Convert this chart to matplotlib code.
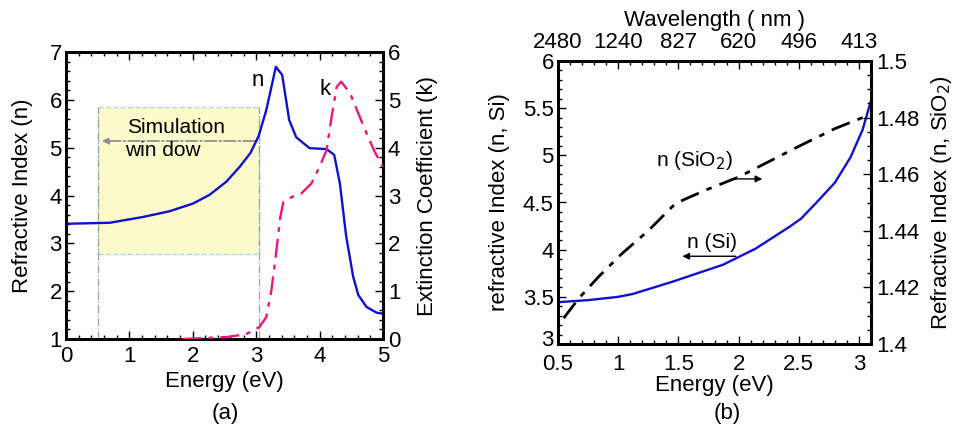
import matplotlib
matplotlib.use("Agg")
import matplotlib.pyplot as plt
from matplotlib.ticker import MultipleLocator
from matplotlib.patches import Rectangle
from matplotlib.transforms import ScaledTranslation

plt.rcParams['font.family'] = ['Liberation Sans', 'DejaVu Sans']

# ---- panel (a) data ----
energy_n = [0.05, 0.69, 1.21, 1.63, 2.0, 2.26, 2.53, 2.74, 2.91, 3.04, 3.16, 3.31, 3.41,
            3.52, 3.63, 3.84, 4.11, 4.23, 4.32, 4.42, 4.53, 4.61, 4.74, 4.90, 5.0]
n_si = [3.41, 3.43, 3.55, 3.67, 3.83, 4.01, 4.29, 4.60, 4.89, 5.25, 5.79, 6.69, 6.52,
        5.58, 5.22, 4.99, 4.97, 4.85, 4.25, 3.14, 2.30, 1.92, 1.67, 1.55, 1.53]
energy_k = [1.84, 2.53, 2.84, 3.05, 3.16, 3.24, 3.32, 3.38, 3.43, 3.58, 3.71, 3.87, 4.00,
            4.11, 4.19, 4.27, 4.34, 4.48, 4.61, 4.74, 4.87, 5.0]
k_si = [0.0, 0.04, 0.10, 0.25, 0.46, 1.02, 1.86, 2.55, 2.87, 2.98, 3.04, 3.25, 3.60,
        3.95, 4.65, 5.27, 5.38, 5.14, 4.72, 4.30, 3.91, 3.60]
window_e = [0.5, 3.04]
window_n = [2.78, 5.84]

# ---- panel (b) data ----
energy_b_si = [0.52, 0.75, 1.0, 1.12, 1.45, 1.87, 2.14, 2.42, 2.52, 2.64, 2.8, 2.93, 3.03, 3.1]
n_b_si = [3.445, 3.465, 3.50, 3.53, 3.66, 3.84, 4.01, 4.24, 4.33, 4.49, 4.71, 4.98, 5.27, 5.58]
energy_b_ox = [0.547, 0.672, 0.838, 1.033, 1.254, 1.477, 1.727, 2.0, 2.3, 2.517, 2.8, 3.1]
n_b_ox = [1.4091, 1.4161, 1.4238, 1.432, 1.4402, 1.4497, 1.4544, 1.4590, 1.4655, 1.4702,
          1.4761, 1.4812]
wl_ticks_e = [0.5, 1.0, 1.5, 2.0, 2.5, 3.0]
wl_labels = ['2480', '1240', '827', '620', '496', '413']

FS = 16
fig = plt.figure(figsize=(9.58, 4.4), dpi=100)


def style(ax, top=True, right=True, xpad=5):
    ax.tick_params(which='both', direction='in', top=top, right=right, labelsize=FS,
                   width=1.0, pad=3)
    ax.tick_params(which='major', length=6)
    ax.tick_params(which='minor', length=3)
    ax.tick_params(axis='x', which='both', pad=xpad)
    for s in ax.spines.values():
        s.set_linewidth(2)


# ---------------- panel (a) ----------------
ax1 = fig.add_axes([66/958, 1-339/440, (383-66)/958, (339-52)/440])
ax1.set_xlim(0, 5)
ax1.set_ylim(1, 7)
ax1.add_patch(Rectangle((window_e[0], window_n[0]), window_e[1]-window_e[0],
                        window_n[1]-window_n[0], facecolor='#fbfac8', edgecolor='#a8d8e8',
                        linestyle='--', linewidth=1, zorder=1))
for xe in window_e:
    ax1.plot([xe, xe], [1, window_n[1]], color='#a0a0a0', linestyle='-.', linewidth=0.9, zorder=1.5)
ax1.annotate('', xy=(window_e[0] + 0.02, 5.14), xytext=(window_e[1] - 0.02, 5.14),
             arrowprops=dict(arrowstyle='-|>', color='#909090', linestyle='-.', lw=1.3,
                             mutation_scale=10))
ax1.text(1.74, 5.42, 'Simulation', fontsize=15, ha='center', va='center')
ax1.text(1.53, 4.95, 'win dow', fontsize=15, ha='center', va='center')
ax1.plot(energy_n, n_si, color='#1010d0', linewidth=1.7, zorder=3)
ax1.text(3.03, 6.4, 'n', fontsize=16, ha='center', va='center')
ax1.text(4.08, 6.21, 'k', fontsize=16, ha='center', va='center')
ax1.xaxis.set_major_locator(MultipleLocator(1))
ax1.xaxis.set_minor_locator(MultipleLocator(0.2))
ax1.yaxis.set_major_locator(MultipleLocator(1))
ax1.yaxis.set_minor_locator(MultipleLocator(0.2))
style(ax1, right=False)
ax1.set_xlabel('Energy (eV)', fontsize=FS, labelpad=3)
ax1.set_ylabel('Refractive Index (n)', fontsize=FS, labelpad=12)

ax1r = ax1.twinx()
ax1r.set_ylim(0, 6)
ax1r.plot(energy_k, k_si, color='#f0147a', linewidth=1.7, linestyle=(0, (8, 3, 2, 3)), zorder=3)
ax1r.yaxis.set_major_locator(MultipleLocator(1))
ax1r.yaxis.set_minor_locator(MultipleLocator(0.2))
ax1r.tick_params(which='both', direction='in', labelsize=FS, width=1.0)
ax1r.tick_params(which='major', length=6)
ax1r.tick_params(which='minor', length=3)
for s in ax1r.spines.values():
    s.set_linewidth(2)
ax1r.set_ylabel('Extinction Coefficient (k)', fontsize=FS, labelpad=12)
fig.text(225/958, 1-413/440, '(a)', fontsize=FS, ha='center', va='center')

# ---------------- panel (b) ----------------
ax2 = fig.add_axes([558/958, 1-344/440, (871-558)/958, (344-61)/440])
ax2.set_xlim(0.5, 3.1)
ax2.set_ylim(3, 6)
ax2.plot(energy_b_si, n_b_si, color='#1010d0', linewidth=1.7, zorder=3)
ax2.set_xticks([0.5, 1, 1.5, 2, 2.5, 3])
ax2.set_xticklabels(['0.5', '1', '1.5', '2', '2.5', '3'])
ax2.xaxis.set_minor_locator(MultipleLocator(0.1))
ax2.set_yticks([3, 3.5, 4, 4.5, 5, 5.5, 6])
ax2.set_yticklabels(['3', '3.5', '4', '4.5', '5', '5.5', '6'])
ax2.yaxis.set_minor_locator(MultipleLocator(0.1))
style(ax2, top=False, right=False, xpad=7)
lbl3 = ax2.get_yticklabels()[0]
lbl3.set_transform(lbl3.get_transform() + ScaledTranslation(0, 4/72, fig.dpi_scale_trans))
ax2.set_xlabel('Energy (eV)', fontsize=FS, labelpad=0)
ax2.set_ylabel('refractive Index (n, Si)', fontsize=FS, labelpad=9)
ax2.text(1.63, 4.95, 'n (SiO$_2$)', fontsize=15, ha='center', va='center')
ax2.annotate('', xy=(2.22, 4.75), xytext=(1.92, 4.75),
             arrowprops=dict(arrowstyle='-|>', color='black', lw=1.0, mutation_scale=10))
ax2.text(1.78, 4.08, 'n (Si)', fontsize=15, ha='center', va='center')
ax2.annotate('', xy=(1.51, 3.93), xytext=(2.0, 3.93),
             arrowprops=dict(arrowstyle='-|>', color='black', lw=1.0, mutation_scale=10))

ax2r = ax2.twinx()
ax2r.set_ylim(1.4, 1.5)
ax2r.plot(energy_b_ox, n_b_ox, color='black', linewidth=2.0, linestyle=(0, (7, 3, 2, 3)), zorder=3)
ax2r.set_yticks([1.4, 1.42, 1.44, 1.46, 1.48, 1.5])
ax2r.set_yticklabels(['1.4', '1.42', '1.44', '1.46', '1.48', '1.5'])
ax2r.yaxis.set_minor_locator(MultipleLocator(0.005))
ax2r.tick_params(which='both', direction='in', labelsize=FS, width=1.0)
ax2r.tick_params(which='major', length=6)
ax2r.tick_params(which='minor', length=3)
for s in ax2r.spines.values():
    s.set_linewidth(2)
ax2r.set_ylabel('Refractive Index (n, SiO$_2$)', fontsize=FS, labelpad=7)

ax2t = ax2.twiny()
ax2t.set_xlim(0.5, 3.1)
ax2t.set_xticks(wl_ticks_e)
ax2t.set_xticklabels(wl_labels)
ax2t.xaxis.set_minor_locator(MultipleLocator(0.1))
ax2t.tick_params(which='both', direction='in', labelsize=FS, width=1.0, pad=6)
ax2t.tick_params(which='major', length=6)
ax2t.tick_params(which='minor', length=3)
for s in ax2t.spines.values():
    s.set_linewidth(2)
ax2t.set_xlabel('Wavelength ( nm )', fontsize=FS, labelpad=4)
fig.text(727/958, 1-413/440, '(b)', fontsize=FS, ha='center', va='center')

fig.savefig('out.png', dpi=100)
